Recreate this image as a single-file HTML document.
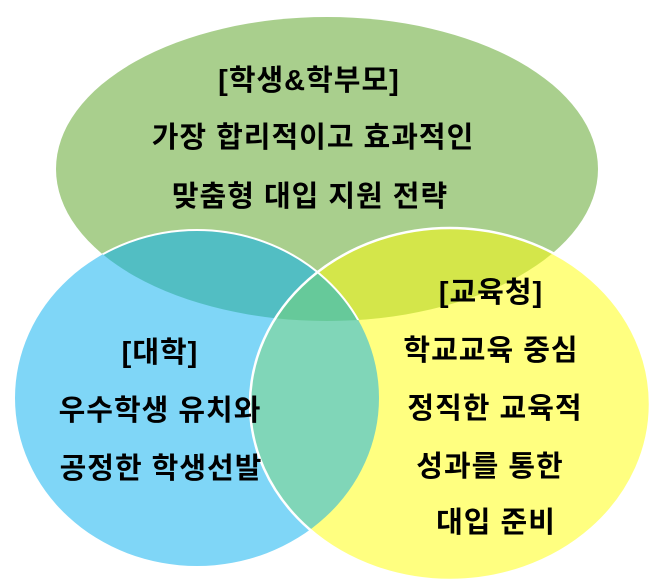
<!DOCTYPE html>
<html><head><meta charset="utf-8"><style>html,body{margin:0;padding:0;background:#fff}svg{display:block}
text{font-family:"Liberation Sans","Noto Sans CJK KR",sans-serif;font-weight:bold;font-size:29px;letter-spacing:1px;fill:#000;text-anchor:middle}</style></head>
<body>
<svg width="659" height="586" viewBox="0 0 659 586">
<defs>
<clipPath id="cg"><ellipse cx="327" cy="169" rx="271" ry="152"/></clipPath>
<clipPath id="cb"><ellipse cx="197" cy="398" rx="182" ry="168"/></clipPath>
</defs>
<ellipse cx="327" cy="169" rx="271" ry="152" fill="#a9cf8d"/>
<ellipse cx="197" cy="398" rx="182" ry="168" fill="#7fd6f7"/>
<ellipse cx="450" cy="404" rx="200" ry="176" fill="#ffff80"/>
<ellipse cx="197" cy="398" rx="182" ry="168" fill="#52bec3" clip-path="url(#cg)"/>
<ellipse cx="450" cy="404" rx="200" ry="176" fill="#d4e64a" clip-path="url(#cg)"/>
<ellipse cx="450" cy="404" rx="200" ry="176" fill="#80d6b8" clip-path="url(#cb)"/>
<g clip-path="url(#cg)"><ellipse cx="450" cy="404" rx="200" ry="176" fill="#66c99a" clip-path="url(#cb)"/></g>
<ellipse cx="197" cy="398" rx="182" ry="168" fill="none" stroke="#fff" stroke-width="2" clip-path="url(#cg)"/>
<ellipse cx="450" cy="404" rx="200" ry="176" fill="none" stroke="#fff" stroke-width="2.5"/>
<text x="309" y="90">[학생&amp;학부모]</text>
<text x="313" y="147">가장 합리적이고 효과적인</text>
<text x="310" y="206">맞춤형 대입 지원 전략</text>
<text x="160" y="362">[대학]</text>
<text x="160" y="420">우수학생 유치와</text>
<text x="161" y="478">공정한 학생선발</text>
<text x="491" y="302">[교육청]</text>
<text x="491" y="360">학교교육 중심</text>
<text x="495" y="418">정직한 교육적</text>
<text x="490" y="476">성과를 통한</text>
<text x="496" y="532">대입 준비</text>
</svg>
</body></html>
